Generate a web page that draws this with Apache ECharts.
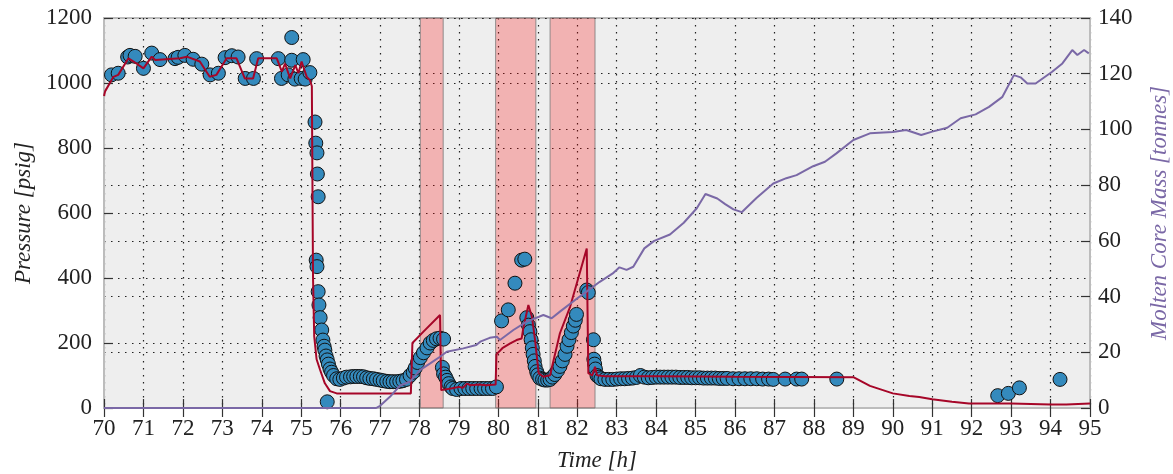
<!DOCTYPE html>
<html>
<head>
<meta charset="utf-8">
<script src="https://cdn.jsdelivr.net/npm/echarts@6/dist/echarts.min.js"></script>
<style>
html,body{margin:0;padding:0;background:#fff;}
#chart{width:1173px;height:474px;}
</style>
</head>
<body>
<div id="chart"></div>
<script>
// Measured pressure (scatter)
const measTime = [70.19,70.36,70.60,70.66,70.79,71.00,71.21,71.42,71.80,71.88,72.05,72.26,72.48,72.69,72.90,73.07,73.24,73.40,73.58,73.79,73.87,74.42,74.50,74.67,74.76,74.76,74.84,75.00,75.05,75.10,75.22,
75.35,75.37,75.40,75.41,75.43,75.38,75.40,75.43,75.45,75.48,75.52,75.55,75.58,75.60,75.63,75.66,75.69,75.73,75.77,75.82,75.66,
75.90,75.98,76.07,76.15,76.25,76.33,76.41,76.50,76.58,76.66,76.74,76.83,76.91,77.00,77.08,77.17,77.25,77.33,77.42,77.50,77.58,77.67,
77.76,77.84,77.89,77.95,78.02,78.10,78.19,78.27,78.35,78.43,78.52,78.61,78.58,78.61,78.66,78.70,78.74,78.80,78.84,78.94,
79.05,79.15,79.25,79.35,79.45,79.56,79.65,79.75,79.85,79.95,
80.08,80.25,80.42,80.59,80.67,80.72,80.76,80.80,80.83,80.86,80.88,80.91,80.93,80.97,81.00,81.05,81.12,81.18,81.25,81.31,81.37,81.43,81.50,81.56,81.62,81.69,81.74,81.79,81.85,81.90,81.95,81.98,82.24,82.28,
82.41,82.42,82.44,82.46,82.50,82.55,82.60,82.70,82.80,82.90,83.00,83.10,83.20,83.30,83.40,83.50,83.60,83.70,83.80,83.90,84.00,84.10,84.20,84.30,84.40,84.50,84.60,84.70,84.80,84.90,85.00,85.10,85.20,85.30,85.40,85.50,85.60,85.70,85.80,85.95,86.10,86.25,86.40,86.55,86.70,86.85,86.97,87.27,87.56,87.69,88.58,
92.66,92.93,93.21,94.24];
const measPressure = [1025,1030,1080,1085,1082,1045,1092,1072,1075,1079,1085,1073,1058,1025,1030,1078,1084,1080,1014,1014,1075,1075,1014,1025,1140,1070,1012,1014,1072,1012,1032,
880,815,785,720,650,455,435,358,317,278,240,209,190,178,160,148,135,120,110,100,19,
90,88,92,95,96,97,97,97,96,93,91,90,88,86,84,82,81,81,81,82,84,88,
100,110,123,140,155,170,185,200,208,213,215,212,125,105,95,85,75,65,60,57,
60,60,60,60,60,60,60,60,60,65,
268,302,384,455,458,278,255,235,210,185,165,145,128,112,102,92,88,86,86,88,95,103,115,128,145,165,190,210,232,252,270,288,363,355,
210,150,135,120,100,95,90,88,88,88,89,90,90,91,92,94,100,95,93,94,95,95,95,95,95,95,94,94,94,93,93,93,92,92,92,92,91,91,91,90,90,90,90,90,89,89,88,89,89,89,89,
38,45,62,88];

// Simulated pressure (red line)
const simTime = [70.00,70.03,70.24,70.36,70.62,70.75,71.00,71.21,71.30,71.93,72.10,72.43,72.68,72.85,73.11,73.36,73.57,73.78,73.91,74.38,74.51,74.59,74.72,74.85,74.93,75.01,75.14,75.22,75.27,75.30,75.33,75.39,75.48,75.60,75.73,75.90,
77.78,77.82,78.10,78.52,78.55,78.80,79.00,79.10,79.20,79.30,79.50,79.70,79.93,79.95,80.10,80.30,80.46,80.59,80.63,80.76,80.85,80.93,81.02,81.14,81.31,81.56,81.82,82.24,82.28,82.38,82.45,82.50,82.70,84.00,86.00,89.00,
89.42,90.00,90.42,90.67,91.00,91.50,91.93,93.00,94.00,94.40,95.00];
const simPressure = [960,975,1019,1025,1076,1066,1045,1081,1071,1076,1081,1066,1019,1025,1076,1076,1014,1014,1076,1076,1035,1060,1014,1055,1030,1066,1019,1009,990,400,220,150,117,76,52,45,
45,200,235,286,55,60,65,62,75,70,72,70,72,165,184,199,209,214,245,317,281,209,107,96,101,230,312,491,107,100,127,101,98,98,96,95,
68,45,37,34,27,19,14,14,11,11,14];

// Molten core mass (purple line, right axis)
const massTime = [70.0,76.9,77.0,77.25,77.5,77.76,78.01,78.27,78.52,78.69,79.11,79.44,79.54,79.78,79.96,80.04,80.38,80.72,81.14,81.35,81.56,82.06,82.40,82.57,82.90,83.07,83.25,83.42,83.70,83.95,84.35,84.70,85.03,85.25,85.55,85.75,85.96,86.17,86.55,86.97,87.30,87.56,87.98,88.28,88.57,89.00,89.42,90.00,90.34,90.72,91.00,91.38,91.72,92.10,92.44,92.78,93.07,93.24,93.41,93.62,94.04,94.30,94.55,94.68,94.85,94.97];
const massValue = [0,0,0.8,4,8,9.5,13.6,16,18.4,20.2,21.4,22.6,23.8,25.2,25.6,24.4,28,31,33.4,32.2,34.6,40,43.5,45.3,48.3,50.5,49.6,50.7,57.3,60,62.3,66.5,71.7,76.8,75.2,73.2,71.3,70.3,75.5,80.6,82.5,83.6,86.8,88.4,91.4,96.2,98.6,99.1,99.8,98.0,99.2,100.6,104,105.4,108.1,111.7,119.5,118.7,116.5,116.5,120.7,123.7,128.5,126.7,128.5,127.3];

// Shaded intervals [start, end] in hours
const bandStart = [78.02, 79.93, 81.31];
const bandEnd = [78.60, 80.95, 82.45];

const FONT = 'Liberation Serif';
const dotted = {color:'#222', width:1.2, type:[1.5,5.5]};

const chart = echarts.init(document.getElementById('chart'), null, {renderer:'canvas'});
const zip = (a,b) => a.map((v,i)=>[v,b[i]]);
const plain = v => String(v);

chart.setOption({
  animation:false,
  grid:{left:104, right:83, top:18, bottom:66, outerBoundsMode:'none', containLabel:false,
        show:true, backgroundColor:'#eeeeee', borderColor:'#bcbcbc', borderWidth:2},
  xAxis:[{
    type:'value', min:70, max:95, interval:1, position:'bottom',
    name:'Time [h]', nameLocation:'middle', nameGap:41,
    nameTextStyle:{fontFamily:FONT, fontSize:23, fontStyle:'italic', color:'#222'},
    axisLine:{show:true, lineStyle:{color:'#bcbcbc', width:2}},
    axisTick:{show:true, inside:true, length:9, lineStyle:{color:'#333', width:1.2}},
    axisLabel:{fontFamily:FONT, fontSize:23, color:'#222', margin:9, formatter:plain},
    splitLine:{show:true, lineStyle:dotted}
  },{
    type:'value', min:70, max:95, interval:1, position:'top',
    axisLine:{show:false},
    axisTick:{show:true, inside:true, length:9, lineStyle:{color:'#333', width:1.2}},
    axisLabel:{show:false}, splitLine:{show:false}
  }],
  yAxis:[{
    type:'value', min:0, max:1200, interval:200, position:'left',
    name:'Pressure [psig]', nameLocation:'middle', nameGap:67, nameRotate:90,
    nameTextStyle:{fontFamily:FONT, fontSize:23, fontStyle:'italic', color:'#222'},
    axisLine:{show:true, lineStyle:{color:'#bcbcbc', width:2}},
    axisTick:{show:true, inside:true, length:9, lineStyle:{color:'#333', width:1.2}},
    axisLabel:{fontFamily:FONT, fontSize:23, color:'#222', margin:12, formatter:plain},
    splitLine:{show:true, lineStyle:dotted}
  },{
    type:'value', min:0, max:140, interval:20, position:'right',
    name:'Molten Core Mass [tonnes]', nameLocation:'middle', nameGap:58, nameRotate:90,
    nameTextStyle:{fontFamily:FONT, fontSize:23, fontStyle:'italic', color:'#7A68A6'},
    axisLine:{show:true, lineStyle:{color:'#bcbcbc', width:2}},
    axisTick:{show:true, inside:true, length:9, lineStyle:{color:'#333', width:1.2}},
    axisLabel:{fontFamily:FONT, fontSize:23, color:'#222', margin:8, formatter:plain},
    splitLine:{show:true, lineStyle:dotted}
  }],
  series:[{
    type:'line', data:[], silent:true,
    markArea:{silent:true,
      itemStyle:{color:'rgba(255,0,0,0.25)', borderColor:'rgba(120,120,120,0.8)', borderWidth:1},
      data: bandStart.map((s,i)=>[{xAxis:s},{xAxis:bandEnd[i]}])
    }
  },{
    name:'Measured', type:'scatter', data:zip(measTime, measPressure), z:3,
    symbolSize:14,
    itemStyle:{color:'#348ABD', borderColor:'#111', borderWidth:1, opacity:1}
  },{
    name:'Simulated', type:'line', data:zip(simTime, simPressure), z:4,
    showSymbol:false, lineStyle:{color:'#A60628', width:2}
  },{
    name:'Mass', type:'line', yAxisIndex:1, data:zip(massTime, massValue), z:5,
    showSymbol:false, lineStyle:{color:'#7A68A6', width:2}
  }]
});
</script>
</body>
</html>
